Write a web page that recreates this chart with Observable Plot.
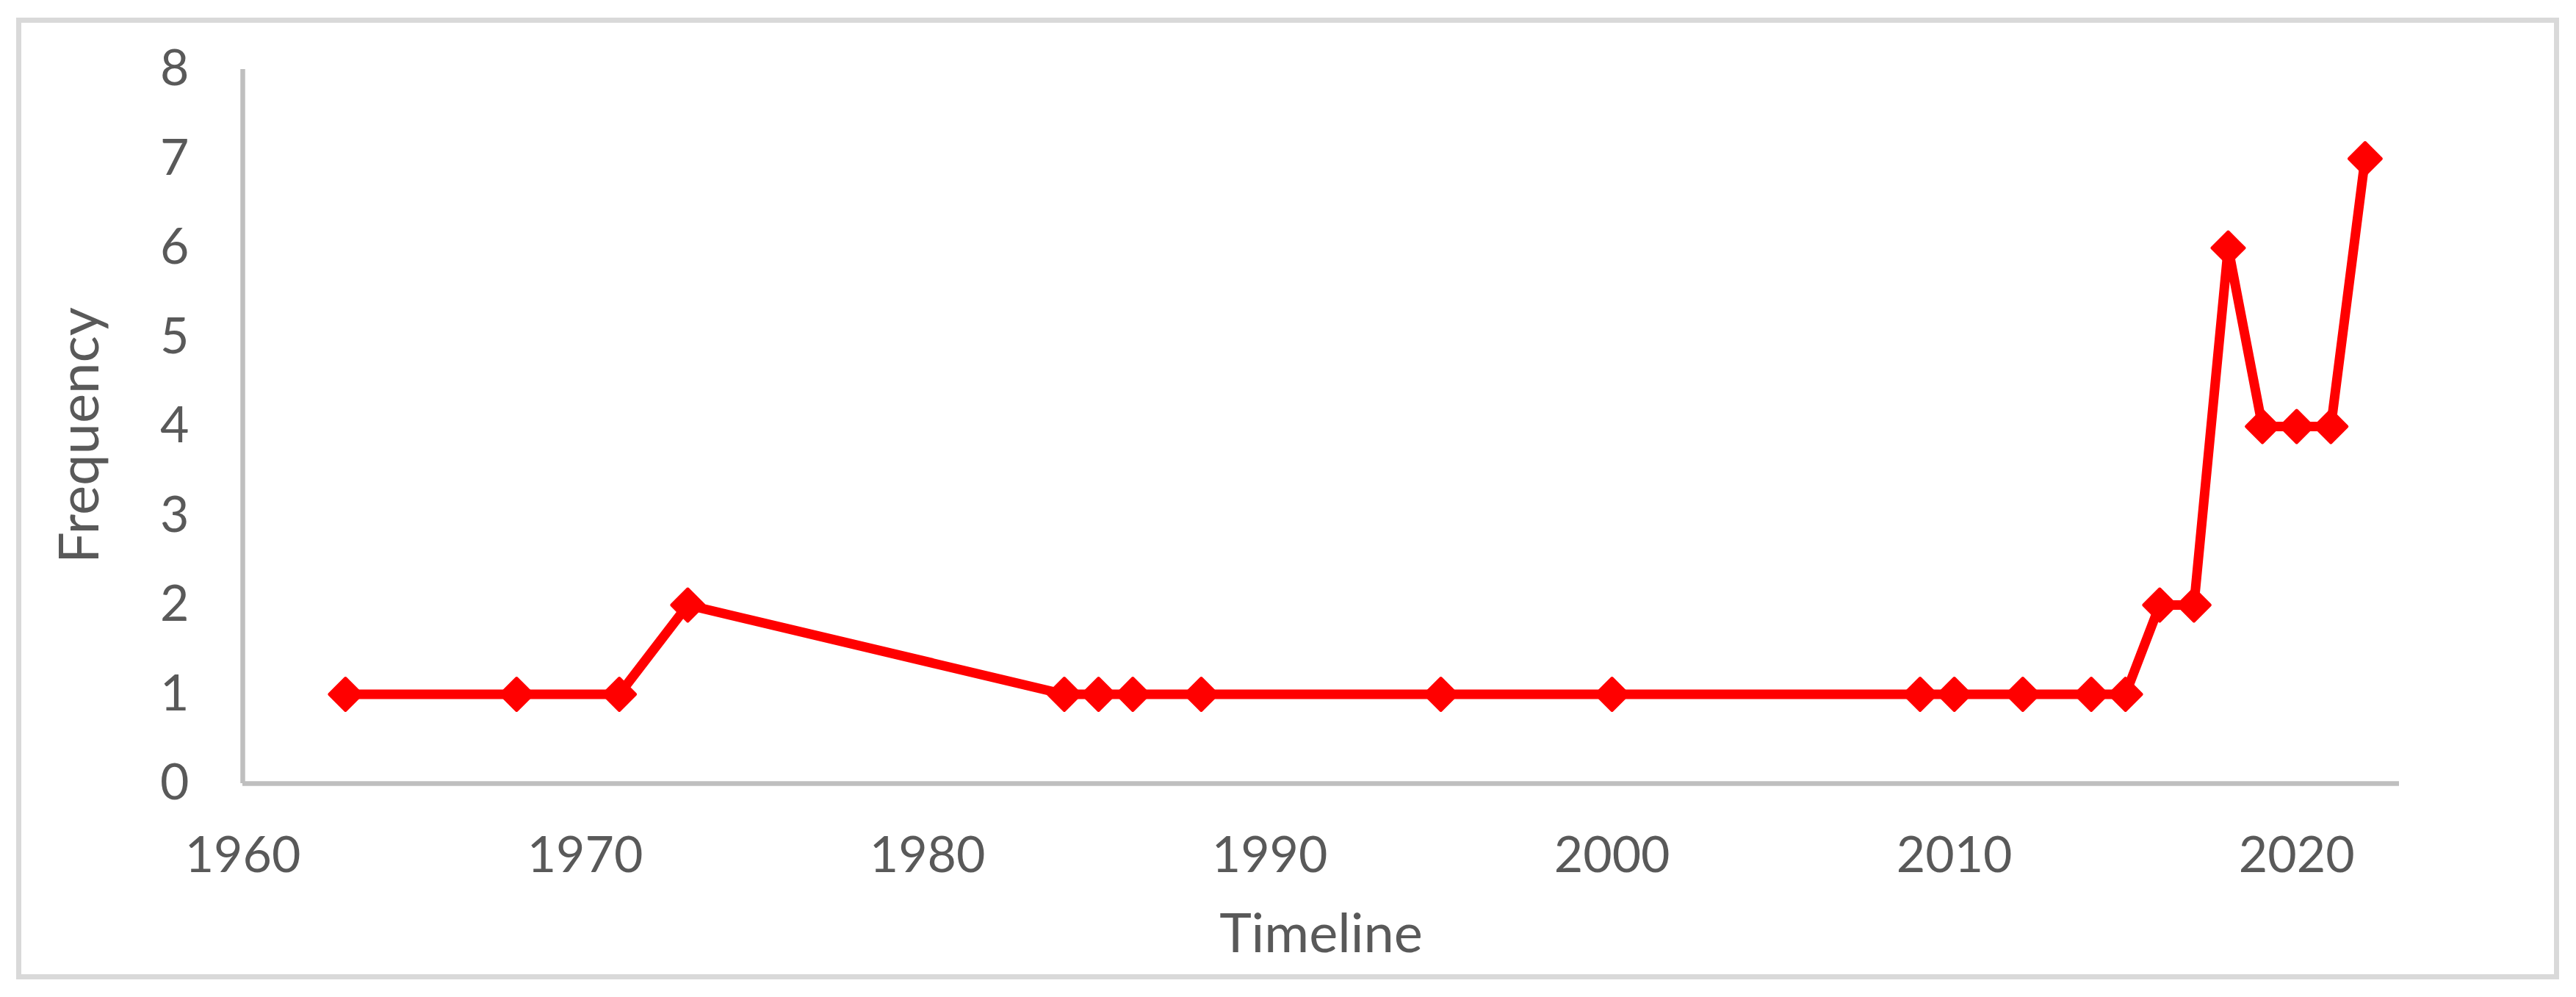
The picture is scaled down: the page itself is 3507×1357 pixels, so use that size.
<!DOCTYPE html>
<html>
<head>
<meta charset="utf-8">
<script src="https://cdn.jsdelivr.net/npm/d3@7"></script>
<script src="https://cdn.jsdelivr.net/npm/@observablehq/plot@0.6"></script>
<style>
  html, body { margin: 0; padding: 0; background: #ffffff; }
  #wrap { position: relative; width: 3507px; height: 1357px; }
  #frame {
    position: absolute; left: 21.5px; top: 23.5px; width: 3462px; height: 1309.5px;
    box-sizing: border-box; border: 7px solid #D9D9D9; pointer-events: none;
  }
</style>
</head>
<body>
<div id="wrap"><div id="frame"></div></div>
<script>
const years = [1963, 1968, 1971, 1973, 1984, 1985, 1986, 1988, 1995, 2000, 2009, 2010, 2012, 2014, 2015, 2016, 2017, 2018, 2019, 2020, 2021, 2022];
const frequency = [1, 1, 1, 2, 1, 1, 1, 1, 1, 1, 1, 1, 1, 1, 1, 2, 2, 6, 4, 4, 4, 7];
const xTicks = [1960, 1970, 1980, 1990, 2000, 2010, 2020];
const yTicks = [0, 1, 2, 3, 4, 5, 6, 7, 8];
const xTitle = "Timeline";
const yTitle = "Frequency";

const data = years.map((y, i) => ({year: y, freq: frequency[i]}));

const chart = Plot.plot({
  width: 3507,
  height: 1357,
  marginLeft: 330,
  marginRight: 241,
  marginTop: 94,
  marginBottom: 291,
  style: {fontFamily: "Lato, 'Open Sans', sans-serif", fontSize: "68px", color: "#595959", background: "transparent"},
  x: {domain: [1960, 2023], ticks: xTicks, tickSize: 0, tickPadding: 72, tickFormat: d => String(d), label: null},
  y: {domain: [0, 8], ticks: yTicks, tickSize: 0, tickPadding: 73, label: null},
  marks: [
    Plot.ruleY([0], {stroke: "#BFBFBF", strokeWidth: 6.5}),
    Plot.ruleX([1960], {y1: 0, y2: 8, stroke: "#BFBFBF", strokeWidth: 6.5}),
    Plot.line(data, {x: "year", y: "freq", stroke: "#FF0000", strokeWidth: 13, strokeLinejoin: "round", strokeLinecap: "round"}),
    Plot.dot(data, {x: "year", y: "freq", symbol: "diamond2", r: 19.8, fill: "#FF0000", stroke: "#FF0000", strokeWidth: 4, strokeLinejoin: "round"}),
    Plot.text([xTitle], {frameAnchor: "bottom", lineAnchor: "bottom", textAnchor: "middle", dy: 229, fontSize: 74, fill: "#595959", text: d => d}),
    Plot.text([yTitle], {frameAnchor: "left", lineAnchor: "bottom", textAnchor: "middle", rotate: -90, dx: -197, dy: 12, fontSize: 76, fill: "#595959", text: d => d})
  ]
});
document.getElementById("wrap").prepend(chart);
chart.style.position = "absolute";
chart.style.left = "0px";
chart.style.top = "0px";
</script>
</body>
</html>
